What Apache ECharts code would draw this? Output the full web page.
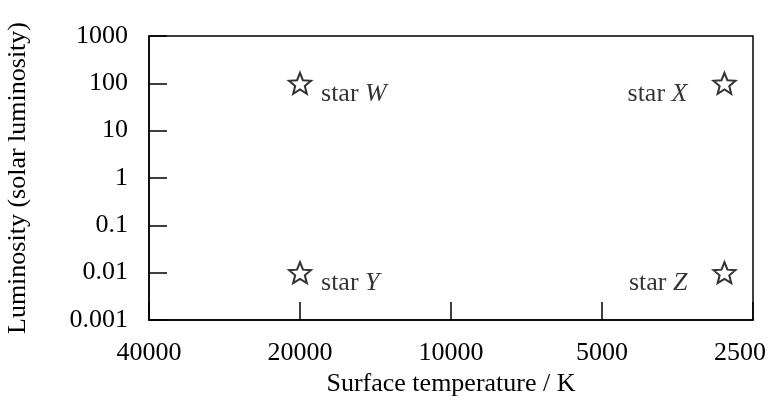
<!DOCTYPE html>
<html>
<head>
<meta charset="utf-8">
<script src="https://cdn.jsdelivr.net/npm/echarts@6/dist/echarts.min.js"></script>
<style>
  html, body { margin: 0; padding: 0; background: #fff; }
  #main { width: 768px; height: 400px; }
</style>
</head>
<body>
<div id="main"></div>
<script>
// stars on the H-R diagram
var starNames = ['W', 'X', 'Y', 'Z'];
var starTemps = [20000, 2850, 20000, 2850];
var starLums = [100, 100, 0.01, 0.01];

var xTicks = [40000, 20000, 10000, 5000, 2500];
var yTicks = [0.001, 0.01, 0.1, 1, 10, 100, 1000];
var yTickLabels = ['0.001', '0.01', '0.1', '1', '10', '100', '1000'];

var dom = document.getElementById('main');
var myChart = echarts.init(dom);

var FONT = 'Liberation Serif';
var starPath = 'path://M50 0L62.9 32.2L97.6 34.5L70.9 56.8L79.4 90.5L50 72L20.6 90.5L29.1 56.8L2.4 34.5L37.1 32.2Z';

// W and Y labels sit to the right, X and Z to the left
var labelSide = { W: 'right', X: 'left', Y: 'right', Z: 'left' };

var starData = starNames.map(function (n, i) {
    var side = labelSide[n];
    return {
        name: n,
        value: [starTemps[i], starLums[i]],
        label: {
            position: side,
            distance: side === 'right' ? 9 : 25,
            offset: [0, 11]
        }
    };
});

var option = {
    animation: false,
    textStyle: { fontFamily: FONT, color: '#000' },
    grid: {
        left: 149,
        right: 15,
        top: 36,
        bottom: 80,
        outerBoundsMode: 'none',
        containLabel: false,
        show: true,
        borderColor: '#000',
        borderWidth: 1.5
    },
    xAxis: {
        type: 'log',
        logBase: 2,
        min: 2500,
        max: 40000,
        inverse: true,
        name: 'Surface temperature / K',
        nameLocation: 'middle',
        nameGap: 50,
        nameTextStyle: { fontFamily: FONT, fontSize: 26, color: '#000' },
        axisLine: { lineStyle: { color: '#000', width: 1.5 } },
        axisTick: {
            inside: true,
            length: 18,
            customValues: xTicks,
            lineStyle: { color: '#000', width: 1.5 }
        },
        axisLabel: {
            customValues: xTicks,
            margin: 20,
            fontFamily: FONT,
            fontSize: 26,
            color: '#000',
            formatter: function (v) {
                var s = String(Math.round(v));
                // last label is pulled in so it stays on the page
                return Math.round(v) === 2500 ? '{edge|' + s + '}' : s;
            },
            rich: {
                edge: { fontFamily: FONT, fontSize: 26, color: '#000', padding: [0, 26, 0, 0] }
            }
        },
        splitLine: { show: false }
    },
    yAxis: {
        type: 'log',
        logBase: 10,
        min: 0.001,
        max: 1000,
        name: 'Luminosity (solar luminosity)',
        nameLocation: 'middle',
        nameGap: 118,
        nameTextStyle: { fontFamily: FONT, fontSize: 26, color: '#000' },
        axisLine: { lineStyle: { color: '#000', width: 1.5 } },
        axisTick: {
            inside: true,
            length: 18,
            customValues: yTicks,
            lineStyle: { color: '#000', width: 1.5 }
        },
        axisLabel: {
            customValues: yTicks,
            margin: 21,
            fontFamily: FONT,
            fontSize: 26,
            color: '#000',
            formatter: function (v) {
                var i = yTicks.findIndex(function (t) { return Math.abs(Math.log10(t) - Math.log10(v)) < 1e-6; });
                return i >= 0 ? yTickLabels[i] : String(v);
            }
        },
        splitLine: { show: false }
    },
    series: [
        {
            type: 'scatter',
            symbol: starPath,
            symbolSize: [22, 21],
            itemStyle: { color: '#fff', borderColor: '#000', borderWidth: 2 },
            label: {
                show: true,
                formatter: function (p) { return '{a|star }{b|' + p.name + '}'; },
                rich: {
                    a: { fontFamily: FONT, fontSize: 26, color: '#000' },
                    b: { fontFamily: FONT, fontSize: 26, fontStyle: 'italic', color: '#000' }
                }
            },
            data: starData
        }
    ]
};

if (option && typeof option === 'object') {
    myChart.setOption(option);
}
</script>
</body>
</html>
